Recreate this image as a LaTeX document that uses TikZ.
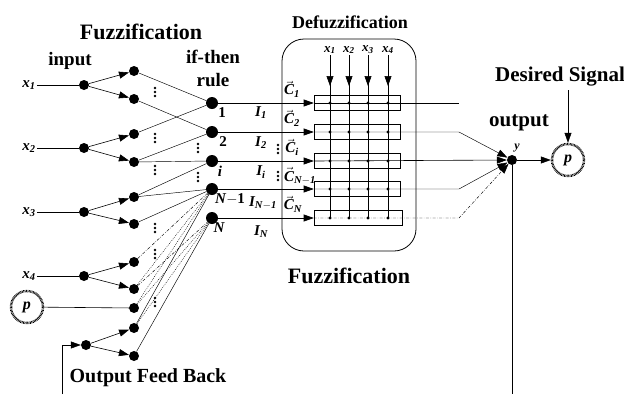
\documentclass[tikz,border=0pt]{standalone}
\usepackage{amsmath}
\usepackage{fontspec}
\setmainfont{Liberation Serif}
\usetikzlibrary{arrows.meta}
\newcommand\vdt[2]{\foreach \k in {-4,0,4}{\fill (#1,#2+\k) circle (1.3pt);}}
\begin{document}
\begin{tikzpicture}[x=1pt,y=-1pt,
 dot/.style={circle,fill,inner sep=0pt,minimum size=10pt},
 rdot/.style={circle,fill,inner sep=0pt,minimum size=12pt},
 tip/.style={-{Triangle[length=10pt,width=7pt]}},
 ln/.style={line width=0.6pt},
 thinl/.style={line width=0.45pt},
 dd/.style={thinl,dash pattern=on 3pt off 1.5pt on 0.6pt off 1.5pt},
 dt/.style={thinl,dash pattern=on 0.8pt off 1.2pt},
 head/.style={font=\fontsize{20}{20}\selectfont\bfseries},
 lab/.style={font=\fontsize{15}{15}\selectfont\bfseries\itshape,inner sep=1pt},
 num/.style={font=\fontsize{15}{15}\selectfont\bfseries,inner sep=1pt},
 pcirc/.style={circle,minimum size=32pt,inner sep=0pt,draw,line width=2.4pt,dash pattern=on 0.7pt off 0.7pt,font=\fontsize{16}{16}\selectfont\bfseries\itshape},
 rowbox/.style={draw,minimum width=86pt,minimum height=15pt,inner sep=0pt,line width=0.6pt}
]
\useasboundingbox (0,0) rectangle (624,394);
% headings
\node[head,font=\fontsize{22}{22}\selectfont\bfseries] (hfz) at (141,32) {Fuzzification};
\node[head,font=\fontsize{19}{19}\selectfont\bfseries] (hin) at (70,61) {input};
\node[head,font=\fontsize{19}{19}\selectfont\bfseries] (hif) at (213,57) {if-then};
\node[head,font=\fontsize{19}{19}\selectfont\bfseries] (hru) at (213,80) {rule};
\node[head,font=\fontsize{18}{18}\selectfont\bfseries] (hdf) at (350,22) {Defuzzification};
\node[head,font=\fontsize{22}{22}\selectfont\bfseries] (hfz2) at (349,276) {Fuzzification};
\node[head,font=\fontsize{21}{21}\selectfont\bfseries] (hds) at (560,77) {Desired Signal};
\node[head,font=\fontsize{21}{21}\selectfont\bfseries] (hout) at (519,123) {output};
\node[head] (hfb) at (148,378) {Output Feed Back};
% input labels
\node[lab] (lx1) at (29,85) {x\textsubscript{1}};
\node[lab] (lx2) at (29,148) {x\textsubscript{2}};
\node[lab] (lx3) at (29,212) {x\textsubscript{3}};
\node[lab] (lx4) at (29,276) {x\textsubscript{4}};
\node[pcirc] (pin) at (27,307) {p};
% input nodes
\node[dot] (in1) at (84,85) {};
\node[dot] (in2) at (84,148) {};
\node[dot] (in3) at (84,212) {};
\node[dot] (in4) at (84,276) {};
\node[dot] (fb) at (86,345) {};
% fuzz nodes
\node[dot] (f1a) at (134,71) {};
\node[dot] (f1b) at (134,99) {};
\node[dot] (f2a) at (134,134) {};
\node[dot] (f2b) at (134,162) {};
\node[dot] (f3a) at (134,197) {};
\node[dot] (f3b) at (134,224) {};
\node[dot] (f4a) at (134,262) {};
\node[dot] (f4b) at (134,289) {};
\node[dot] (fp) at (134,308) {};
\node[dot] (ffa) at (134,328) {};
\node[dot] (ffb) at (134,356) {};
% rule nodes
\node[rdot] (r1) at (212,103) {};
\node[rdot] (r2) at (212,132) {};
\node[rdot] (ri) at (212,161) {};
\node[rdot] (rn1) at (212,189) {};
\node[rdot] (rn) at (212,218) {};
\node[num] (l1) at (222,113) {1};
\node[num] (l2) at (223,142) {2};
\node[lab] (li) at (220,171) {i};
\node[num] (ln1) at (230,199) {\textit{N}$-$1};
\node[lab] (lN) at (219,228) {N};
% I labels
\node[lab] (I1) at (261,113) {I\textsubscript{1}};
\node[lab] (I2) at (261,143) {I\textsubscript{2}};
\node[lab] (Ii) at (261,172) {I\textsubscript{\textit{i}}};
\node[lab] (In1) at (263,203) {I\textsubscript{\textit{N}$-$1}};
\node[lab] (IN) at (261,232) {I\textsubscript{\textit{N}}};
% defuzz box
\node[draw,rounded corners=22pt,minimum width=134pt,minimum height=212pt,line width=0.8pt] (defz) at (349,145) {};
\node[rowbox] (b1) at (357,103) {};
\node[rowbox] (b2) at (357,132) {};
\node[rowbox] (b3) at (357,161) {};
\node[rowbox] (b4) at (357,189) {};
\node[rowbox,minimum width=88pt] (b5) at (358,218) {};
% C labels
\node[lab] (c1) at (292,89) {$\vec{\textit{C}}_{\textbf{1}}$};
\node[lab] (c2) at (292,118) {$\vec{\textit{C}}_{\textbf{2}}$};
\node[lab] (ci) at (292,147) {$\vec{\textit{C}}_{\textit{i}}$};
\node[lab] (cn1) at (300,176) {$\vec{\textit{C}}_{\textit{N}-\textbf{1}}$};
\node[lab] (cn) at (293,204) {$\vec{\textit{C}}_{\textit{N}}$};
% grid labels and lines
\coordinate (atip) at (0,86);
\foreach \i/\xx in {1/330,2/349,3/368,4/388}{
  \node[lab,font=\fontsize{13}{13}\selectfont\bfseries\itshape] (g\i) at (\xx,50) {x\textsubscript{\i}};
  \draw[ln] (g\i.south) -- (g\i.south |- b5);
  \draw[ln,tip] (g\i.south) -- (g\i.south |- atip);
  \foreach \j in {1,...,5}{\fill (g\i.south |- b\j) circle (1.7pt);}
}
% output
\node[dot] (yn) at (512,160) {};
\node[lab,font=\fontsize{12}{12}\selectfont\bfseries\itshape] (ly) at (517,148) {y};
\node[pcirc] (pout) at (568,160) {p};
\coordinate (ybot) at (512,394);
\coordinate (e1) at (459,103);
\coordinate (e2) at (459,132);
\coordinate (e4) at (459,189);
\coordinate (e5) at (459,218);
\coordinate (fbb) at (62,394);
\coordinate (fbt) at (62,345);
% input lines
\draw[ln] (lx1) -- (in1);
\draw[ln] (lx2) -- (in2);
\draw[ln] (lx3) -- (in3);
\draw[ln] (lx4) -- (in4);
\draw[ln] (pin) -- (fp);
\draw[thinl] (fbb) -- (fbt);
\draw[ln,tip] (fbt) -- (fb);
\draw[ln,tip] (in1) -- (f1a); \draw[ln,tip] (in1) -- (f1b);
\draw[ln,tip] (in2) -- (f2a); \draw[ln,tip] (in2) -- (f2b);
\draw[ln,tip] (in3) -- (f3a); \draw[ln,tip] (in3) -- (f3b);
\draw[ln,tip] (in4) -- (f4a); \draw[ln,tip] (in4) -- (f4b);
\draw[ln,tip] (fb) -- (ffa); \draw[ln,tip] (fb) -- (ffb);
% fuzz -> rule
\draw[thinl] (f1a) -- (r1);
\draw[thinl] (f1b) -- (r2);
\draw[thinl] (f2a) -- (r1);
\draw[thinl] (f2b) -- (r2);
\draw[thinl] (f2b) -- (ri);
\draw[thinl] (f3a) -- (ri);
\draw[thinl] (f3a) -- (rn1);
\draw[thinl] (f3b) -- (rn1);
\draw[dd] (f4a) -- (rn1);
\draw[dt] (f4b) -- (rn1);
\draw[dd] (f4b) -- (rn);
\draw[dt] (fp) -- (rn1);
\draw[dt] (fp) -- (rn);
\draw[thinl] (ffa) -- (rn1);
\draw[dt] (ffa) -- (rn);
\draw[thinl] (ffb) -- (rn);
% rule -> boxes
\draw[ln,tip] (r1) -- (b1.west);
\draw[ln,tip] (r2) -- (b2.west);
\draw[ln,tip] (ri) -- (b3.west);
\draw[ln,tip] (rn1) -- (b4.west);
\draw[ln,tip] (rn) -- (b5.west);
% boxes -> output
\draw[ln] (b1.west) -- (e1);
\draw[thinl,tip] (b2.west) -- (e2) -- (yn);
\draw[ln,tip] (b3.west) -- (yn);
\draw[thinl,tip] (b4.west) -- (e4) -- (yn);
\draw[dd,tip] (b5.west) -- (e5) -- (yn);
\draw[ln,tip] (yn) -- (pout);
\draw[ln,tip] (hds.south -| pout) -- (pout);
\draw[ln] (yn) -- (ybot);
% vertical dots
\vdt{155}{92} \vdt{155}{138} \vdt{155}{170} \vdt{198}{148} \vdt{198}{177}
\vdt{155}{228} \vdt{155}{254} \vdt{155}{302} \vdt{278}{149} \vdt{278}{176}
\end{tikzpicture}
\end{document}
